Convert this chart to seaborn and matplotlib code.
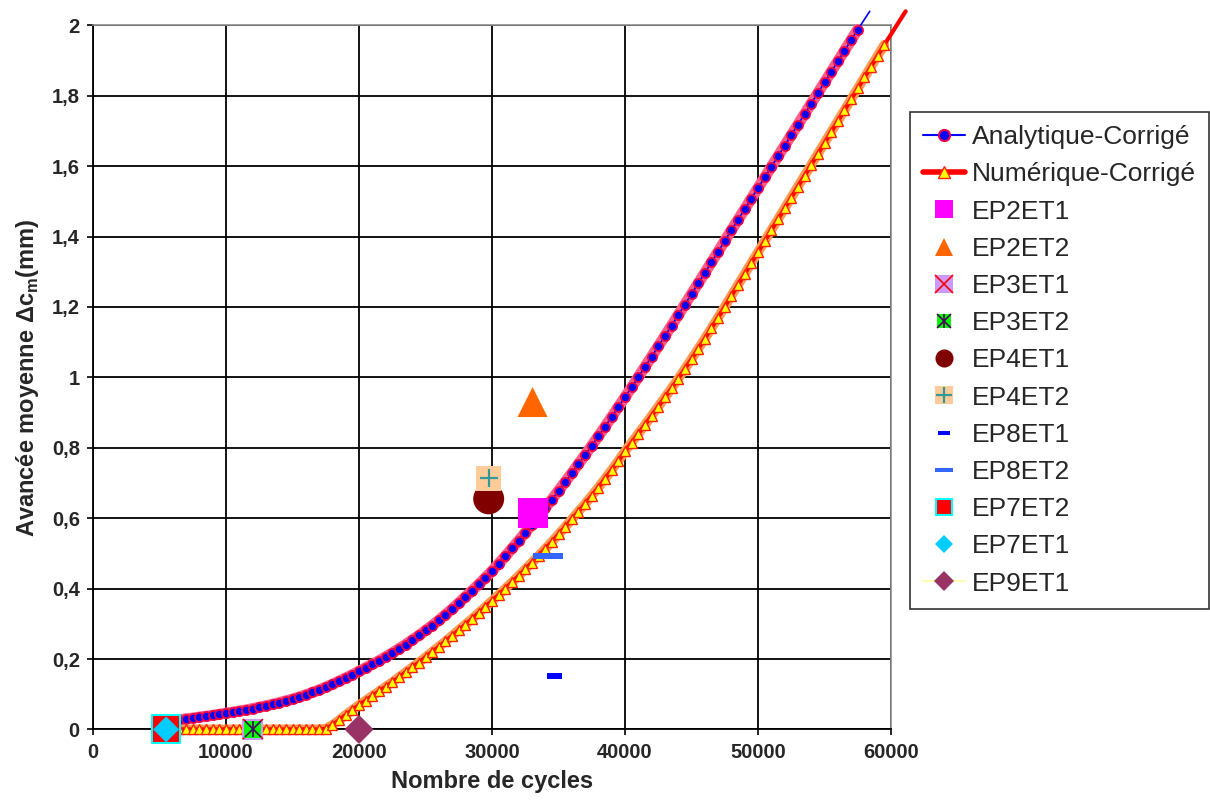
import matplotlib
matplotlib.use("Agg")
import matplotlib.pyplot as plt
import seaborn as sns
from matplotlib.lines import Line2D
from matplotlib.legend_handler import HandlerTuple
from matplotlib.path import Path
from matplotlib.ticker import FuncFormatter, MultipleLocator

# --- data --------------------------------------------------------------------
# analytical curve, one point every 500 cycles (last point = line end, no marker)
ana_cycles = list(range(5500, 58000, 500)) + [58400]
ana_dc = [
    0.022, 0.025, 0.027, 0.030, 0.032, 0.035, 0.037, 0.040, 0.043, 0.046,
    0.049, 0.052, 0.055, 0.059, 0.063, 0.067, 0.071, 0.076, 0.081, 0.086,
    0.092, 0.098, 0.105, 0.112, 0.120, 0.128, 0.137, 0.146, 0.155, 0.165,
    0.175, 0.185, 0.195, 0.206, 0.217, 0.229, 0.241, 0.254, 0.267, 0.281,
    0.295, 0.310, 0.326, 0.342, 0.359, 0.377, 0.394, 0.412, 0.431, 0.450,
    0.471, 0.492, 0.514, 0.536, 0.559, 0.582, 0.605, 0.629, 0.653, 0.678,
    0.703, 0.728, 0.754, 0.780, 0.806, 0.833, 0.860, 0.888, 0.916, 0.944,
    0.972, 1.001, 1.030, 1.059, 1.088, 1.118, 1.147, 1.177, 1.207, 1.237,
    1.267, 1.297, 1.327, 1.357, 1.388, 1.418, 1.448, 1.478, 1.508, 1.538,
    1.568, 1.598, 1.628, 1.658, 1.688, 1.718, 1.748, 1.778, 1.808, 1.838,
    1.868, 1.898, 1.928, 1.958, 1.988,
    2.04,
]

# numerical curve, one point every 500 cycles (last point = line end, no marker)
num_cycles = list(range(5500, 60000, 500)) + [61100]
num_dc = [
    0.0, 0.0, 0.0, 0.0, 0.0, 0.0, 0.0, 0.0, 0.0, 0.0,
    0.0, 0.0, 0.0, 0.0, 0.0, 0.0, 0.0, 0.0, 0.0, 0.0,
    0.0, 0.0, 0.0, 0.0, 0.002, 0.012, 0.026, 0.041, 0.055, 0.069,
    0.082, 0.095, 0.108, 0.121, 0.134, 0.148, 0.162, 0.176, 0.190, 0.205,
    0.220, 0.235, 0.250, 0.266, 0.282, 0.298, 0.314, 0.331, 0.348, 0.365,
    0.382, 0.400, 0.418, 0.436, 0.455, 0.474, 0.493, 0.513, 0.533, 0.554,
    0.575, 0.597, 0.619, 0.641, 0.664, 0.687, 0.712, 0.737, 0.763, 0.790,
    0.815, 0.840, 0.865, 0.891, 0.917, 0.943, 0.969, 0.996, 1.024, 1.052,
    1.081, 1.110, 1.140, 1.170, 1.201, 1.232, 1.263, 1.294, 1.325, 1.356,
    1.387, 1.418, 1.449, 1.480, 1.511, 1.542, 1.573, 1.604, 1.635, 1.666,
    1.697, 1.728, 1.759, 1.790, 1.821, 1.852, 1.883, 1.914, 1.945,
    2.04,
]

# experimental points
exp_labels = ["EP2ET1", "EP2ET2", "EP3ET1", "EP3ET2", "EP4ET1", "EP4ET2",
              "EP8ET1", "EP8ET2", "EP7ET2", "EP7ET1", "EP9ET1"]
exp_cycles = [33050, 33050, 12000, 12000, 29750, 29750,
              34700, 34200, 5500, 5500, 20000]
exp_dc = [0.614, 0.93, 0.0, 0.0, 0.655, 0.714,
          0.152, 0.493, 0.0, 0.0, 0.0]

x_ticks = [0, 10000, 20000, 30000, 40000, 50000, 60000]

# --- style -------------------------------------------------------------------
sns.set_theme(style="white")
plt.rcParams["font.family"] = ["Liberation Sans", "DejaVu Sans"]
plt.rcParams["mathtext.fontset"] = "custom"
plt.rcParams["mathtext.rm"] = "Liberation Sans"
plt.rcParams["mathtext.bf"] = "Liberation Sans:bold"

fig = plt.figure(figsize=(12.1, 8.1), dpi=100)
ax = fig.add_axes([93 / 1210, 80.6 / 810, 798 / 1210, 704 / 810])

# curves: a soft halo under the markers, then the series themselves
sns.lineplot(x=ana_cycles[:-1], y=ana_dc[:-1], ax=ax, color="#FF5C8A",
             linewidth=8, estimator=None, sort=False, legend=False,
             clip_on=False, zorder=2.8)
sns.lineplot(x=ana_cycles, y=ana_dc, ax=ax, color="#0000FF", linewidth=1.2,
             marker="o", markersize=6.5, markerfacecolor="#0000FF",
             markeredgecolor="#E8004A", markeredgewidth=1.3,
             markevery=slice(0, -1), estimator=None, sort=False,
             legend=False, clip_on=False, zorder=3)
sns.lineplot(x=num_cycles[:-1], y=num_dc[:-1], ax=ax, color="#FF9A50",
             linewidth=7, estimator=None, sort=False, legend=False,
             clip_on=False, zorder=3.05)
sns.lineplot(x=num_cycles, y=num_dc, ax=ax, color="#FF0000", linewidth=3,
             marker="^", markersize=7.5, markerfacecolor="#FFFF00",
             markeredgecolor="#FF2200", markeredgewidth=1.0,
             markevery=slice(0, -1), estimator=None, sort=False,
             legend=False, clip_on=False, zorder=3.1)

dash_long = Path([(-15, -3), (15, -3), (15, 3), (-15, 3), (-15, -3)], closed=True)
dash_short = Path([(-8, -3), (8, -3), (8, 3), (-8, 3), (-8, -3)], closed=True)

# filled markers for the test points: (marker, size, face, edge, lw)
point_styles = {
    "EP2ET1": ("s", 467, "#FF00FF", "none", 0),
    "EP2ET2": ("^", 467, "#FF6600", "none", 0),
    "EP3ET1": ("s", 225, "#CC99FF", "none", 0),
    "EP3ET2": ("s", 140, "#00FF00", "none", 0),
    "EP4ET1": ("o", 497, "#800000", "none", 0),
    "EP4ET2": ("s", 324, "#FFCC99", "none", 0),
    "EP8ET1": (dash_short, 132, "#0000FF", "none", 0),
    "EP8ET2": (dash_long, 467, "#3366FF", "none", 0),
    "EP7ET2": ("s", 420, "#FF0000", "#00FFFF", 1.5),
    "EP7ET1": ("D", 175, "#00CCFF", "none", 0),
    "EP9ET1": ("D", 220, "#993366", "none", 0),
}

z = 5
for lab, cx, cy in zip(exp_labels, exp_cycles, exp_dc):
    mk, size, face, edge, lw = point_styles[lab]
    sns.scatterplot(x=[cx], y=[cy], ax=ax, marker=mk, s=size, color=face,
                    edgecolor=edge, linewidth=lw, legend=False,
                    clip_on=False, zorder=z)
    # line-type overlays (x, asterisk, plus)
    if lab == "EP3ET1":
        sns.lineplot(x=[cx], y=[cy], ax=ax, marker="x", markersize=15,
                     markeredgecolor="#FF0000", markeredgewidth=1.2,
                     linestyle="none", estimator=None, legend=False,
                     clip_on=False, zorder=z + 0.5)
    if lab == "EP3ET2":
        for m in ["x", "|"]:
            sns.lineplot(x=[cx], y=[cy], ax=ax, marker=m, markersize=11,
                         markeredgecolor="#4B0060", markeredgewidth=1.2,
                         linestyle="none", estimator=None, legend=False,
                         clip_on=False, zorder=z + 0.5)
    if lab == "EP4ET2":
        sns.lineplot(x=[cx], y=[cy], ax=ax, marker="+", markersize=13,
                     markeredgecolor="#339999", markeredgewidth=1.6,
                     linestyle="none", estimator=None, legend=False,
                     clip_on=False, zorder=z + 0.5)
    z += 1

# --- axes --------------------------------------------------------------------
ax.set_xlim(0, 60000)
ax.set_ylim(0, 2)
ax.set_xticks(x_ticks)
ax.yaxis.set_major_locator(MultipleLocator(0.2))
ax.yaxis.set_major_formatter(FuncFormatter(lambda v, p: f"{v:g}".replace(".", ",")))
ax.xaxis.set_major_formatter(FuncFormatter(lambda v, p: f"{int(v)}"))
ax.grid(True, color="black", linewidth=1.3)
ax.set_axisbelow(True)
for side in ["left", "bottom"]:
    ax.spines[side].set_color("black")
    ax.spines[side].set_linewidth(1.3)
for side in ["top", "right"]:
    ax.spines[side].set_color("#8C8C8C")
    ax.spines[side].set_linewidth(1.2)
ax.tick_params(axis="both", which="major", direction="out", length=4.5,
               width=1.2, color="black", labelsize=14.5, pad=5,
               left=True, bottom=True)
for lbl in ax.get_xticklabels() + ax.get_yticklabels():
    lbl.set_fontweight("bold")

ax.set_xlabel("Nombre de cycles", fontsize=17, fontweight="bold", labelpad=6)
ax.set_ylabel(r"Avancée moyenne Δc$_\mathbf{m}$(mm)", fontsize=17,
              fontweight="bold", labelpad=8)

# --- legend ------------------------------------------------------------------
def pt(marker, size, face, edge="none", mew=0):
    return Line2D([], [], linestyle="none", marker=marker, markersize=size,
                  markerfacecolor=face, markeredgecolor=edge, markeredgewidth=mew)

handles = [
    Line2D([], [], color="#0000FF", linewidth=1.5, marker="o", markersize=8,
           markerfacecolor="#0000FF", markeredgecolor="#E8004A", markeredgewidth=1.5),
    Line2D([], [], color="#FF0000", linewidth=4, marker="^", markersize=8,
           markerfacecolor="#FFFF00", markeredgecolor="#FF2200", markeredgewidth=1),
    pt("s", 13, "#FF00FF"),
    pt("^", 13, "#FF6600"),
    (pt("s", 13, "#CC99FF"), pt("x", 13, "none", "#FF0000", 1.2)),
    (pt("s", 10, "#00FF00"), pt("x", 10, "none", "#4B0060", 1.2),
     pt("|", 10, "none", "#4B0060", 1.2)),
    pt("o", 13, "#800000"),
    (pt("s", 13, "#FFCC99"), pt("+", 12, "none", "#339999", 1.6)),
    pt(dash_short, 8, "#0000FF"),
    pt(dash_long, 13, "#3366FF"),
    pt("s", 12, "#FF0000", "#00FFFF", 1.5),
    pt("D", 9, "#00CCFF"),
    (Line2D([], [], color="#FFFF99", linewidth=1.2), pt("D", 10, "#993366")),
]
labels = ["Analytique-Corrigé", "Numérique-Corrigé"] + exp_labels

leg = ax.legend(handles, labels, loc="upper left",
                bbox_to_anchor=(910 / 1210, 1 - 112 / 810),
                bbox_transform=fig.transFigure, fontsize=19,
                handler_map={tuple: HandlerTuple(ndivide=1, pad=0)},
                frameon=True, fancybox=False, shadow=False, borderpad=0.5,
                labelspacing=0.5, handlelength=1.6, handletextpad=0.25,
                borderaxespad=0, numpoints=1)
leg.get_frame().set_edgecolor("black")
leg.get_frame().set_linewidth(1.2)

fig.savefig("out.png", dpi=100)
